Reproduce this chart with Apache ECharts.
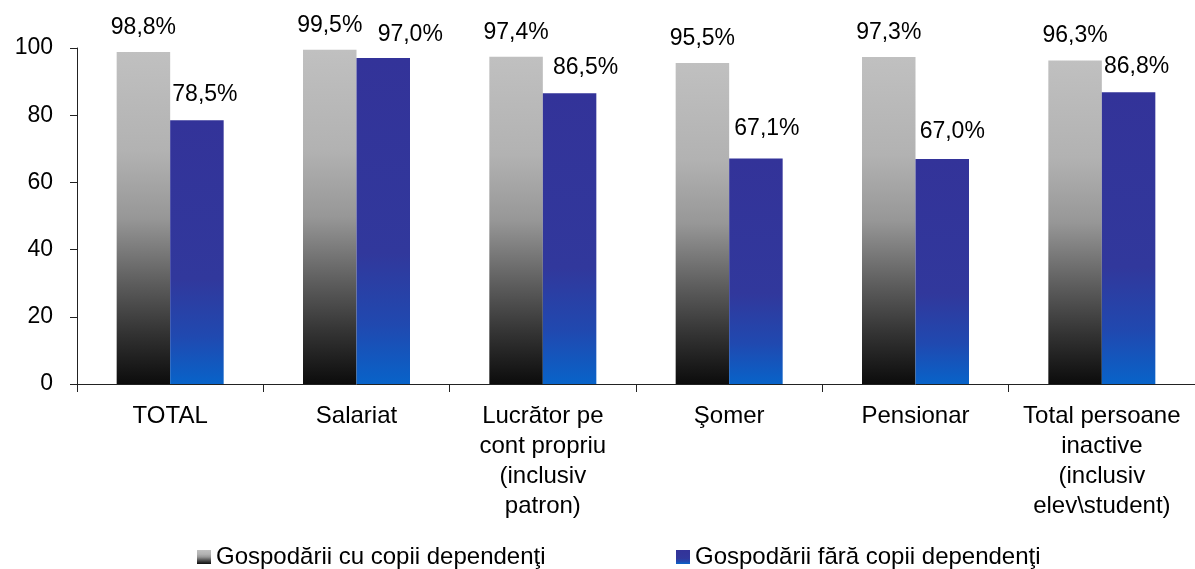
<!DOCTYPE html>
<html>
<head>
<meta charset="utf-8">
<script src="https://cdn.jsdelivr.net/npm/echarts@6/dist/echarts.min.js"></script>
<style>
  html, body { margin: 0; padding: 0; background: #fff; }
  #chart { width: 1195px; height: 569px; }
</style>
</head>
<body>
<div id="chart"></div>
<script>
// ---- Data ----
const categories = [
  'TOTAL',
  'Salariat',
  'Lucrător pe\ncont propriu\n(inclusiv\npatron)',
  'Şomer',
  'Pensionar',
  'Total persoane\ninactive\n(inclusiv\nelev\\student)'
];
const seriesNames = ['Gospodării cu copii dependenţi', 'Gospodării fără copii dependenţi'];
const withChildren = [98.8, 99.5, 97.4, 95.5, 97.3, 96.3];
const withoutChildren = [78.5, 97.0, 86.5, 67.1, 67.0, 86.8];
const yTicks = { min: 0, max: 100, interval: 20 };

// ---- Label nudges (presentation only) ----
const grayNudge = [[0, 0], [0, 0], [0, 0], [0, 0], [0, 0], [0, 0]];
const blueNudge = [[8, 0], [27, 2], [16, 0], [11, -4], [10, -2], [8, 0]];

const fmt = v => v.toFixed(1).replace('.', ',') + '%';
const FONT = '"Liberation Sans", Arial, sans-serif';

const grayGrad = new echarts.graphic.LinearGradient(0, 0, 0, 1, [
  { offset: 0, color: '#c0c0c0' },
  { offset: 0.3, color: '#b2b2b2' },
  { offset: 0.5, color: '#979797' },
  { offset: 0.7, color: '#5c5c5c' },
  { offset: 0.85, color: '#323232' },
  { offset: 1, color: '#0c0c0c' }
]);
const blueGrad = new echarts.graphic.LinearGradient(0, 0, 0, 1, [
  { offset: 0, color: '#333399' },
  { offset: 0.6, color: '#31389c' },
  { offset: 0.82, color: '#2049b0' },
  { offset: 1, color: '#0863c9' }
]);

function mk(values, nudges) {
  return values.map((v, i) => ({ value: v, label: { offset: nudges[i] } }));
}

const legendCommon = {
  top: 540,
  itemWidth: 14,
  itemHeight: 14,
  icon: 'rect',
  textStyle: { fontSize: 24, color: '#000', fontFamily: FONT }
};

const chart = echarts.init(document.getElementById('chart'), null, { renderer: 'canvas' });
chart.setOption({
  animation: false,
  backgroundColor: '#ffffff',
  textStyle: { fontFamily: FONT },
  grid: { left: 77, right: 0, top: 48, bottom: 185, containLabel: false, outerBoundsMode: 'none' },
  legend: [
    Object.assign({ left: 192, data: [seriesNames[0]] }, legendCommon),
    Object.assign({ left: 671, data: [seriesNames[1]] }, legendCommon)
  ],
  xAxis: {
    type: 'category',
    data: categories,
    axisLine: { lineStyle: { color: '#222', width: 1 } },
    axisTick: { show: true, length: 8, lineStyle: { color: '#222' } },
    axisLabel: { color: '#000', fontSize: 24, lineHeight: 30, margin: 17, interval: 0, fontFamily: FONT }
  },
  yAxis: {
    type: 'value',
    min: yTicks.min,
    max: yTicks.max,
    interval: yTicks.interval,
    splitLine: { show: false },
    axisLine: { show: true, lineStyle: { color: '#222', width: 1 } },
    axisTick: { show: true, length: 7, lineStyle: { color: '#222' } },
    axisLabel: { color: '#000', fontSize: 23, margin: 24, fontFamily: FONT }
  },
  series: [
    {
      name: seriesNames[0],
      type: 'bar',
      barWidth: 53.5,
      barGap: '0%',
      itemStyle: { color: grayGrad },
      label: { show: true, position: 'top', distance: 13, fontSize: 23, color: '#000', fontFamily: FONT, formatter: p => fmt(p.value) },
      data: mk(withChildren, grayNudge)
    },
    {
      name: seriesNames[1],
      type: 'bar',
      barWidth: 53.5,
      barGap: '0%',
      itemStyle: { color: blueGrad },
      label: { show: true, position: 'top', distance: 14, fontSize: 23, color: '#000', fontFamily: FONT, formatter: p => fmt(p.value) },
      data: mk(withoutChildren, blueNudge)
    }
  ]
});
</script>
</body>
</html>
